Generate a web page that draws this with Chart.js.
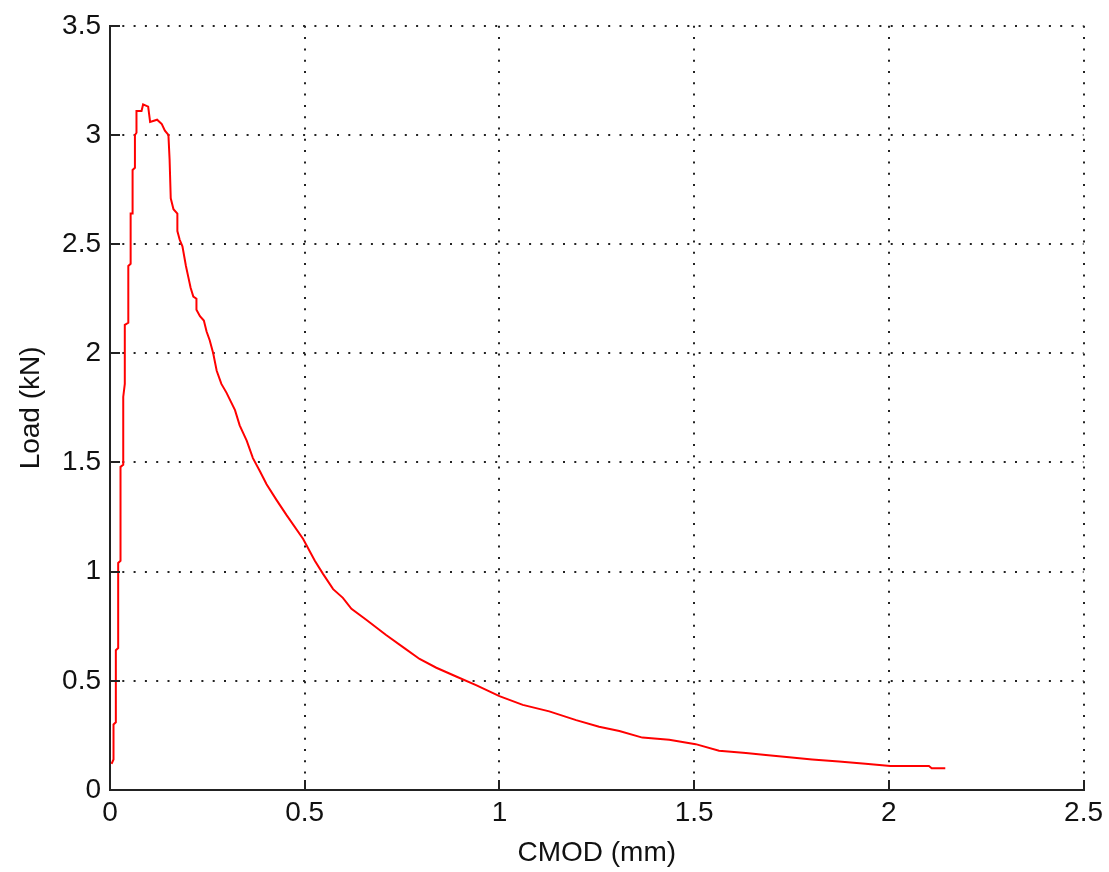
<!DOCTYPE html>
<html>
<head>
<meta charset="utf-8">
<script src="https://cdn.jsdelivr.net/npm/chart.js@4"></script>
<style>
  html, body { margin: 0; padding: 0; background: #fff; }
  #wrap { width: 1109px; height: 872px; }
</style>
</head>
<body>
<div id="wrap"><canvas id="loadChart" width="1109" height="872"></canvas></div>
<script>
// CMOD (mm) vs load (kN)
const cmod = [
  0.004, 0.009, 0.009, 0.015, 0.015, 0.021, 0.021, 0.027, 0.027, 0.034,
  0.034, 0.038, 0.038, 0.047, 0.047, 0.053, 0.053, 0.058, 0.058, 0.064,
  0.064, 0.068, 0.068, 0.081, 0.085, 0.098, 0.103, 0.121, 0.133, 0.141,
  0.150, 0.153, 0.156, 0.163, 0.173, 0.173, 0.179, 0.186, 0.195, 0.201,
  0.207, 0.214, 0.222, 0.222, 0.231, 0.241, 0.248, 0.256, 0.265, 0.274,
  0.286, 0.299, 0.321, 0.333, 0.351, 0.367, 0.385, 0.402, 0.427, 0.453,
  0.496, 0.526, 0.547, 0.573, 0.598, 0.620, 0.658, 0.709, 0.756, 0.795,
  0.838, 0.889, 0.940, 1.000, 1.060, 1.128, 1.197, 1.256, 1.308, 1.367,
  1.436, 1.504, 1.564, 1.633, 1.684, 1.744, 1.803, 1.872, 1.940, 2.004,
  2.103, 2.110, 2.145
];
const load = [
  0.12, 0.14, 0.30, 0.31, 0.64, 0.65, 1.04, 1.05, 1.48, 1.49,
  1.80, 1.86, 2.13, 2.14, 2.40, 2.41, 2.64, 2.64, 2.84, 2.85,
  3.00, 3.01, 3.11, 3.11, 3.14, 3.13, 3.06, 3.07, 3.05, 3.02,
  3.00, 2.89, 2.71, 2.66, 2.64, 2.56, 2.52, 2.49, 2.40, 2.35,
  2.30, 2.26, 2.25, 2.20, 2.17, 2.15, 2.10, 2.06, 2.00, 1.92,
  1.86, 1.82, 1.74, 1.67, 1.60, 1.52, 1.46, 1.40, 1.33, 1.26,
  1.15, 1.05, 0.99, 0.92, 0.88, 0.83, 0.78, 0.71, 0.65, 0.60,
  0.56, 0.52, 0.48, 0.43, 0.39, 0.36, 0.32, 0.29, 0.27, 0.24,
  0.23, 0.21, 0.18, 0.17, 0.16, 0.15, 0.14, 0.13, 0.12, 0.11,
  0.11, 0.10, 0.10
];
const xTicks = [0, 0.5, 1, 1.5, 2, 2.5];
const yTicks = [0, 0.5, 1, 1.5, 2, 2.5, 3, 3.5];

const axisColor = '#222';
const labelFont = { family: 'Liberation Sans, Arial, sans-serif', size: 28 };

// matlab style: short tick marks pointing into the plot
const innerTicks = {
  id: 'innerTicks',
  afterDraw(chart) {
    const ctx = chart.ctx;
    const area = chart.chartArea;
    const xs = chart.scales.x, ys = chart.scales.y;
    ctx.save();
    ctx.strokeStyle = axisColor;
    ctx.lineWidth = 2;
    ctx.beginPath();
    xTicks.forEach(v => {
      const px = Math.round(xs.getPixelForValue(v));
      ctx.moveTo(px, area.bottom);
      ctx.lineTo(px, area.bottom - 10);
    });
    yTicks.forEach(v => {
      const py = Math.round(ys.getPixelForValue(v));
      ctx.moveTo(area.left, py);
      ctx.lineTo(area.left + 10, py);
    });
    ctx.stroke();
    ctx.restore();
  }
};

document.addEventListener('DOMContentLoaded', function () {
  const ctx = document.getElementById('loadChart').getContext('2d');
  new Chart(ctx, {
    type: 'line',
    data: {
      datasets: [{
        data: cmod.map((x, i) => ({ x: x, y: load[i] })),
        borderColor: '#ff0000',
        borderWidth: 2,
        pointRadius: 0,
        tension: 0,
        fill: false
      }]
    },
    options: {
      responsive: false,
      animation: false,
      layout: { padding: { left: 0, top: 22, right: 22, bottom: 0 } },
      plugins: { legend: { display: false }, tooltip: { enabled: false } },
      scales: {
        x: {
          type: 'linear',
          min: 0, max: 2.5,
          afterBuildTicks: s => { s.ticks = xTicks.map(v => ({ value: v })); },
          afterFit: s => { s.height = 82; },
          grid: { color: '#222', lineWidth: 2, drawTicks: false },
          border: { color: axisColor, width: 2, dash: [2, 9.3] },
          ticks: { color: '#111', font: labelFont, padding: 6, maxRotation: 0, callback: v => String(v) },
          title: { display: true, text: 'CMOD (mm)', color: '#111', font: labelFont, padding: { top: 0, bottom: 2 } }
        },
        y: {
          min: 0, max: 3.5,
          afterBuildTicks: s => { s.ticks = yTicks.map(v => ({ value: v })); },
          afterFit: s => { s.width = 110; },
          grid: { color: '#222', lineWidth: 2, drawTicks: false },
          border: { color: axisColor, width: 2, dash: [2, 9.3] },
          ticks: { color: '#111', font: labelFont, padding: 9, callback: v => String(v) },
          title: { display: true, text: 'Load (kN)', color: '#111', font: labelFont, padding: { top: 14, bottom: 0 } }
        }
      }
    },
    plugins: [innerTicks]
  });
});
</script>
</body>
</html>
